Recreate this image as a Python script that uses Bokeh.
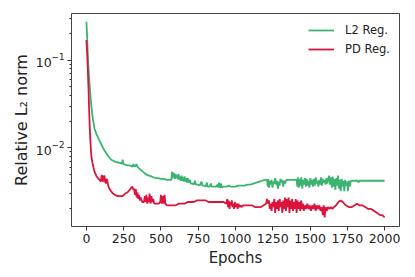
from bokeh.plotting import figure
from bokeh.models import Range1d, FixedTicker, LogTickFormatter, Legend, LegendItem
from bokeh.embed import file_html
from bokeh.resources import INLINE

# ---------------- data ----------------
x_ticks = [0, 250, 500, 750, 1000, 1250, 1500, 1750, 2000]
y_major = [0.01, 0.1]
y_minor = [0.002, 0.003, 0.004, 0.005, 0.006, 0.007, 0.008, 0.009,
           0.02, 0.03, 0.04, 0.05, 0.06, 0.07, 0.08, 0.09, 0.2, 0.3]

l2_epochs = [0, 4, 8, 11, 15, 22, 29, 36, 44, 55, 66, 77, 88, 99, 110, 121, 132, 144, 155, 166,
             180, 195, 210, 225, 238, 243, 248, 260, 276, 290, 300, 310, 316, 322, 330, 336, 342, 350,
             364, 375, 386, 397, 408, 420, 435, 450, 465, 480, 500, 520, 540, 560, 570, 574, 578, 582,
             586, 590, 594, 598, 603, 608, 613, 618, 623, 628, 633, 638, 643, 648, 653, 658, 663, 668,
             673, 680, 687, 694, 700, 710, 720, 728, 734, 745, 760, 772, 778, 790, 800, 808, 813, 826,
             835, 840, 855, 870, 880, 884, 890, 895, 902, 908, 915, 925, 935, 945, 955, 965, 980, 1000,
             1020, 1040, 1060, 1080, 1100, 1120, 1140, 1160, 1180, 1200, 1212, 1216, 1220, 1225, 1230,
             1236, 1242, 1248, 1254, 1260, 1266, 1272, 1278, 1284, 1290, 1296, 1302, 1308, 1314, 1320,
             1326, 1332, 1340, 1357, 1370, 1390, 1410, 1415, 1420, 1425, 1430, 1436, 1442, 1448, 1454,
             1460, 1466, 1472, 1478, 1484, 1490, 1496, 1502, 1508, 1514, 1520, 1526, 1532, 1538, 1544,
             1550, 1556, 1562, 1568, 1574, 1580, 1586, 1592, 1598, 1604, 1610, 1616, 1622, 1628, 1634,
             1640, 1646, 1652, 1658, 1664, 1670, 1676, 1682, 1688, 1694, 1700, 1706, 1712, 1718, 1724,
             1730, 1736, 1742, 1748, 1754, 1760, 1766, 1772, 1778, 1800, 1820, 1824, 1830, 1850, 1880,
             1910, 1940, 1960, 1980, 2000]
l2_values = [0.275, 0.20, 0.135, 0.10, 0.075, 0.051, 0.036, 0.027, 0.021, 0.0164, 0.0145, 0.0132,
             0.0120, 0.0111, 0.0101, 0.0093, 0.0087, 0.0081, 0.0077, 0.0073,
             0.0071, 0.0069, 0.0068, 0.0067, 0.0066, 0.0073, 0.0065, 0.0064, 0.0063, 0.0063, 0.0062,
             0.0061, 0.0065, 0.0061, 0.0062, 0.0065, 0.0061, 0.0059,
             0.0056, 0.0054, 0.0052, 0.0050, 0.0049, 0.0048, 0.0047, 0.0046, 0.0045, 0.0045, 0.0044,
             0.0044, 0.0043, 0.0043, 0.0043, 0.0053, 0.0045, 0.0052,
             0.0046, 0.0051, 0.0044, 0.0050, 0.0045, 0.0049, 0.0044, 0.0050, 0.0043, 0.0047, 0.0042,
             0.0048, 0.0042, 0.0046, 0.0041, 0.0047, 0.0041, 0.0045,
             0.0040, 0.0045, 0.0040, 0.0043, 0.0039, 0.0039, 0.0038, 0.0042, 0.0038, 0.0038, 0.0037,
             0.0041, 0.0037, 0.0037, 0.0036, 0.0040, 0.0036, 0.0036,
             0.0039, 0.0036, 0.0036, 0.0036, 0.0038, 0.0035, 0.0040, 0.0035, 0.0039, 0.0035, 0.0036,
             0.0036, 0.0036, 0.0036, 0.0037, 0.0036, 0.0036, 0.0036,
             0.0037, 0.0037, 0.0037, 0.0038, 0.0038, 0.0039, 0.0040, 0.0041, 0.0042, 0.0043, 0.0043,
             0.0036, 0.0044, 0.0035, 0.0042,
             0.0038, 0.0043, 0.0035, 0.0041, 0.0039, 0.0045, 0.0038, 0.0042, 0.0034, 0.0041, 0.0037,
             0.0044, 0.0040, 0.0043, 0.0036,
             0.0042, 0.0039, 0.0043, 0.0043, 0.0043, 0.0043, 0.0043, 0.0036, 0.0046, 0.0035, 0.0044,
             0.0037, 0.0046, 0.0034, 0.0043,
             0.0038, 0.0045, 0.0036, 0.0044, 0.0037, 0.0042, 0.0035, 0.0045, 0.0038, 0.0043, 0.0036,
             0.0044, 0.0037, 0.0046, 0.0039,
             0.0042, 0.0036, 0.0043, 0.0038, 0.0046, 0.0037, 0.0044, 0.0040, 0.0043, 0.0038, 0.0045,
             0.0039, 0.0044, 0.0048, 0.0038,
             0.0046, 0.0035, 0.0047, 0.0036, 0.0044, 0.0033, 0.0045, 0.0037, 0.0048, 0.0034, 0.0043,
             0.0032, 0.0044, 0.0036, 0.0042,
             0.0032, 0.0043, 0.0037, 0.0041, 0.0032, 0.0042, 0.0036, 0.0041, 0.0042, 0.0042, 0.0042,
             0.0040, 0.0042, 0.0042, 0.0042,
             0.0042, 0.0042, 0.0042, 0.0042, 0.0042]

pd_epochs = [0, 3, 7, 11, 15, 18, 22, 26, 30, 33, 40, 48, 55, 66, 77, 88, 96, 100, 104, 108, 113,
             117, 121, 125, 130, 134, 139, 146, 154, 165, 177, 190, 210, 230, 243, 260, 276, 290, 300,
             309, 314, 320, 326, 331, 337, 342, 348, 353, 358, 364, 370, 376, 386, 392, 397, 402, 408,
             413, 418, 424, 430, 436, 442, 448, 455, 464, 475, 485, 495, 500, 505, 512, 518, 524, 530,
             540, 560, 580, 600, 620, 640, 660, 680, 700, 720, 740, 762, 780, 800, 820, 840, 860, 880,
             900, 920, 938, 945, 950, 955, 960, 965, 970, 975, 980, 985, 990, 996, 1002, 1008, 1014,
             1020, 1026, 1032, 1040, 1050, 1070, 1090, 1110, 1130, 1150, 1170, 1190, 1205, 1212, 1218,
             1224, 1230, 1236, 1242, 1248, 1254, 1260, 1266, 1272, 1278, 1284, 1290, 1296, 1302, 1308,
             1314, 1320, 1326, 1332, 1338, 1344, 1350, 1356, 1362, 1368, 1374, 1380, 1386, 1392, 1398,
             1404, 1410, 1416, 1422, 1428, 1434, 1440, 1446, 1452, 1458, 1466, 1474, 1482, 1490, 1498,
             1506, 1514, 1522, 1530, 1538, 1546, 1554, 1562, 1570, 1578, 1586, 1592, 1598, 1604, 1612,
             1620, 1630, 1640, 1650, 1660, 1675, 1690, 1705, 1720, 1740, 1760, 1780, 1800, 1815, 1830,
             1850, 1870, 1890, 1910, 1930, 1950, 1970, 1985, 2000]
pd_values = [0.17, 0.14, 0.10, 0.065, 0.043, 0.028, 0.018, 0.0125, 0.0095, 0.0081, 0.0068, 0.0059,
             0.0053, 0.0048, 0.0045, 0.0043, 0.0041, 0.0046, 0.0049, 0.0043, 0.0041,
             0.0047, 0.0048, 0.0042, 0.0039, 0.0044, 0.0043, 0.0037, 0.0034, 0.0032, 0.0030, 0.0029,
             0.0028, 0.0028, 0.0028, 0.0030, 0.0031, 0.0033, 0.0035,
             0.0036, 0.0033, 0.0034, 0.0029, 0.0034, 0.0027, 0.0031, 0.0026, 0.0029, 0.0025, 0.0027,
             0.0025, 0.0024, 0.0024, 0.0028, 0.0024, 0.0029, 0.0023,
             0.0027, 0.0024, 0.0030, 0.0023, 0.0028, 0.0024, 0.0026, 0.0023, 0.0023, 0.0023, 0.0023,
             0.0024, 0.0029, 0.0023, 0.0028, 0.0023, 0.0029, 0.0023,
             0.0022, 0.0022, 0.0022, 0.0022, 0.0023, 0.0023, 0.0023, 0.0024, 0.0024, 0.0024, 0.0025,
             0.0025, 0.0025, 0.0025, 0.0024, 0.0024, 0.0024, 0.0024,
             0.0024, 0.0024, 0.0023, 0.0026, 0.0021, 0.0025, 0.0020, 0.0024, 0.0022, 0.0025, 0.0021,
             0.0023, 0.0020, 0.0024, 0.0021, 0.0023, 0.0020,
             0.0023, 0.0021, 0.0022, 0.0021, 0.0022, 0.0022, 0.0022, 0.0022, 0.0021, 0.0021, 0.0021,
             0.0022, 0.0023, 0.0026, 0.0023,
             0.0025, 0.0020, 0.0023, 0.0019, 0.0024, 0.0021, 0.0026, 0.0018, 0.0024, 0.0020, 0.0025,
             0.0019, 0.0026, 0.0021, 0.0024,
             0.0018, 0.0025, 0.0020, 0.0027, 0.0019, 0.0026, 0.0021, 0.0027, 0.0018, 0.0025, 0.0020,
             0.0026, 0.0019, 0.0024, 0.0020,
             0.0026, 0.0018, 0.0025, 0.0020, 0.0024, 0.0019, 0.0025, 0.0020, 0.0023, 0.0019, 0.0022,
             0.0020, 0.0023, 0.0020, 0.0022,
             0.0019, 0.0022, 0.0020, 0.0023, 0.0019, 0.0022, 0.0020, 0.0022, 0.0019, 0.0021, 0.0017,
             0.0022, 0.0016, 0.0021, 0.0019,
             0.0021, 0.0020, 0.0021, 0.0020, 0.0021, 0.0022, 0.0024, 0.0025, 0.0024, 0.0022, 0.0021,
             0.0021, 0.0022, 0.0023, 0.0022,
             0.0022, 0.0021, 0.0020, 0.0020, 0.0019, 0.0018, 0.0017, 0.0017, 0.0016]

series_names = ["L2 Reg.", "PD Reg."]
series_colors = ["#3CB371", "#DC143C"]

# ---------------- figure ----------------
FONT = "DejaVu Sans"
p = figure(width=407, height=269, output_backend="svg", toolbar_location=None,
           y_axis_type="log",
           x_range=Range1d(-100, 2100), y_range=Range1d(1.26e-3, 0.342))
p.min_border_left = 71
p.min_border_right = 8
p.min_border_top = 13
p.min_border_bottom = 41
p.background_fill_color = "white"
p.border_fill_color = "white"
p.outline_line_color = "#444444"
p.outline_line_width = 1
p.xgrid.visible = False
p.ygrid.visible = False

r1 = p.line(l2_epochs, l2_values, line_color=series_colors[0], line_width=1.8)
r2 = p.line(pd_epochs, pd_values, line_color=series_colors[1], line_width=1.8)

p.xaxis.ticker = FixedTicker(ticks=x_ticks, minor_ticks=[])
p.yaxis.ticker = FixedTicker(ticks=y_major, minor_ticks=y_minor)
p.yaxis.formatter = LogTickFormatter()

for ax in (p.xaxis[0], p.yaxis[0]):
    ax.axis_line_color = None
    ax.major_tick_line_color = "#333333"
    ax.minor_tick_line_color = "#333333"
    ax.major_tick_out = 4
    ax.major_tick_in = 0
    ax.minor_tick_out = 2
    ax.minor_tick_in = 0
    ax.major_label_text_font = FONT
    ax.major_label_text_font_size = "12.5px"
    ax.major_label_text_color = "#222222"
    ax.axis_label_text_font = FONT
    ax.axis_label_text_font_size = "15px"
    ax.axis_label_text_font_style = "normal"
    ax.axis_label_text_color = "#222222"

p.xaxis.axis_label = "Epochs"
p.xaxis.major_label_standoff = 3
p.xaxis.axis_label_standoff = 3
p.yaxis.axis_label = "Relative L\u2082 norm"
p.yaxis.axis_label_text_font_size = "16px"
p.yaxis.major_label_standoff = 3
p.yaxis.axis_label_standoff = 2

legend = Legend(items=[LegendItem(label=series_names[0], renderers=[r1]),
                       LegendItem(label=series_names[1], renderers=[r2])],
                location="top_right")
legend.border_line_alpha = 0
legend.background_fill_alpha = 0
legend.margin = 0
legend.padding = 9
legend.spacing = 3
legend.glyph_width = 26
legend.glyph_height = 16
legend.label_height = 16
legend.label_standoff = 11
legend.label_text_font = FONT
legend.label_text_font_size = "11.5px"
legend.label_text_color = "#222222"
p.add_layout(legend)

open("out.html", "w").write(file_html(p, INLINE))
